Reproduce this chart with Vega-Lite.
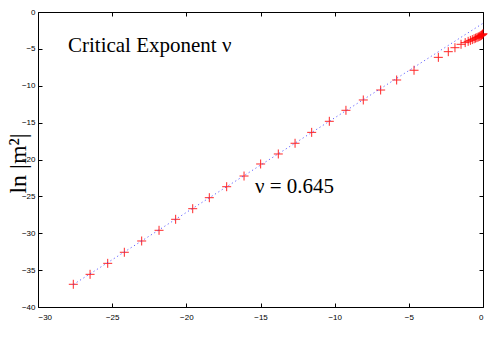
{
  "$schema": "https://vega.github.io/schema/vega-lite/v6.json",
  "width": 445,
  "height": 295,
  "autosize": "none",
  "padding": {"left": 38, "top": 12, "right": 11, "bottom": 39},
  "background": "white",
  "config": {
    "view": {"stroke": "black", "strokeWidth": 1},
    "axis": {
      "domain": false,
      "grid": false,
      "tickSize": -4,
      "tickColor": "black",
      "tickWidth": 1,
      "labelFont": "Liberation Sans",
      "labelFontSize": 8,
      "labelColor": "black",
      "labelPadding": 7
    }
  },
  "datasets": {
    "pts": [
      {"x": -27.62, "y": -36.92},
      {"x": -26.49, "y": -35.57},
      {"x": -25.30, "y": -34.08},
      {"x": -24.18, "y": -32.58},
      {"x": -23.01, "y": -31.05},
      {"x": -21.84, "y": -29.60},
      {"x": -20.72, "y": -28.11},
      {"x": -19.57, "y": -26.67},
      {"x": -18.45, "y": -25.18},
      {"x": -17.28, "y": -23.69},
      {"x": -16.11, "y": -22.24},
      {"x": -14.99, "y": -20.61},
      {"x": -13.80, "y": -19.25},
      {"x": -12.67, "y": -17.80},
      {"x": -11.55, "y": -16.32},
      {"x": -10.36, "y": -14.82},
      {"x": -9.24, "y": -13.33},
      {"x": -8.07, "y": -11.93},
      {"x": -6.90, "y": -10.58},
      {"x": -5.82, "y": -9.22},
      {"x": -4.65, "y": -7.90},
      {"x": -3.01, "y": -6.15},
      {"x": -2.34, "y": -5.38},
      {"x": -1.89, "y": -4.84},
      {"x": -1.48, "y": -4.38},
      {"x": -1.20, "y": -4.15},
      {"x": -1.00, "y": -3.98},
      {"x": -0.85, "y": -3.85},
      {"x": -0.72, "y": -3.74},
      {"x": -0.60, "y": -3.63},
      {"x": -0.50, "y": -3.55},
      {"x": -0.41, "y": -3.47},
      {"x": -0.33, "y": -3.40},
      {"x": -0.26, "y": -3.33},
      {"x": -0.20, "y": -3.27},
      {"x": -0.15, "y": -3.21},
      {"x": -0.10, "y": -3.15},
      {"x": -0.06, "y": -3.08},
      {"x": -0.03, "y": -3.02},
      {"x": 0.00, "y": -2.95}
    ],
    "fit": [
      {"x": -27.62, "y": -36.95},
      {"x": 0.0, "y": -1.53}
    ],
    "t1": [{"x": -27.98, "y": -4.6, "label": "Critical Exponent ν"}],
    "t2": [{"x": -15.37, "y": -23.7, "label": "ν = 0.645"}]
  },
  "resolve": {"axis": {"x": "independent", "y": "independent"}},
  "layer": [
    {
      "data": {"name": "pts"},
      "mark": {"type": "point", "shape": "M-1,0H1M0,-1V1", "filled": false, "stroke": "#ff0000", "strokeWidth": 1, "size": 81, "opacity": 0.85},
      "encoding": {
        "x": {"field": "x", "type": "quantitative", "scale": {"domain": [-30, 0], "nice": false, "zero": false}, "axis": {"orient": "top", "labels": false, "title": null, "values": [-30, -25, -20, -15, -10, -5, 0]}},
        "y": {"field": "y", "type": "quantitative", "scale": {"domain": [-40, 0], "nice": false, "zero": false}, "axis": {"orient": "right", "labels": false, "title": null, "values": [-40, -35, -30, -25, -20, -15, -10, -5, 0]}}
      }
    },
    {
      "data": {"name": "fit"},
      "mark": {"type": "line", "color": "#3c3cff", "strokeWidth": 1, "strokeDash": [1.2, 2.8], "opacity": 0.8},
      "encoding": {
        "x": {"field": "x", "type": "quantitative", "axis": {"orient": "bottom", "title": null, "labelPadding": 10, "values": [-30, -25, -20, -15, -10, -5, 0]}},
        "y": {"field": "y", "type": "quantitative", "axis": {"orient": "left", "title": "ln |m²|", "titleFont": "Liberation Serif", "titleFontSize": 24, "titleFontWeight": "normal", "titleColor": "black", "titleAngle": -90, "titleX": -20, "titleY": 151, "titleAlign": "center", "titleBaseline": "middle", "values": [-40, -35, -30, -25, -20, -15, -10, -5, 0]}}
      }
    },
    {
      "data": {"name": "t1"},
      "mark": {"type": "text", "align": "left", "baseline": "middle", "font": "Liberation Serif", "fontSize": 21, "color": "black"},
      "encoding": {
        "x": {"field": "x", "type": "quantitative", "axis": null},
        "y": {"field": "y", "type": "quantitative", "axis": null},
        "text": {"field": "label"}
      }
    },
    {
      "data": {"name": "t2"},
      "mark": {"type": "text", "align": "left", "baseline": "middle", "font": "Liberation Serif", "fontSize": 21, "color": "black"},
      "encoding": {
        "x": {"field": "x", "type": "quantitative", "axis": null},
        "y": {"field": "y", "type": "quantitative", "axis": null},
        "text": {"field": "label"}
      }
    }
  ]
}
